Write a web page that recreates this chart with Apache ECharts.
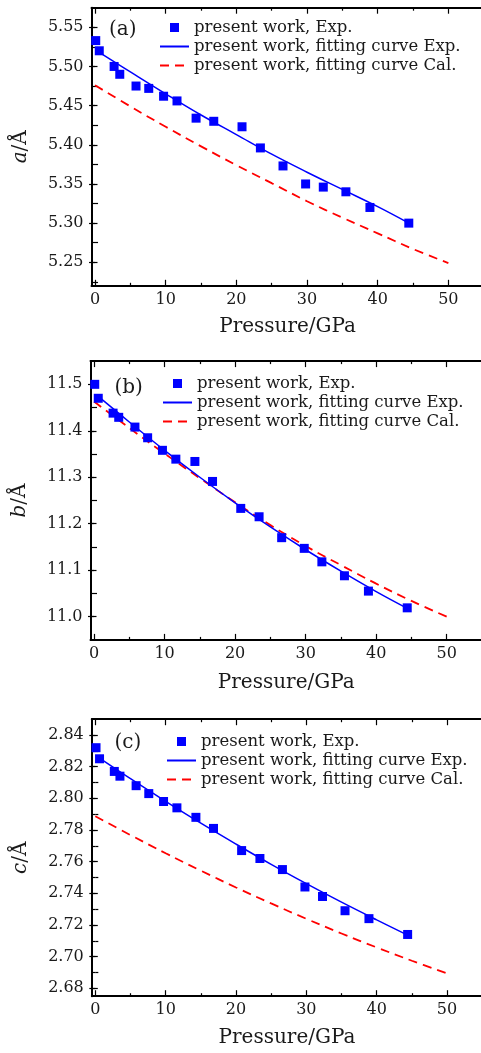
<!DOCTYPE html>
<html>
<head>
<meta charset="utf-8">
<script src="https://cdn.jsdelivr.net/npm/echarts@6.0.0/dist/echarts.min.js"></script>
<style>
  html, body { margin: 0; padding: 0; background: #fff; }
  #chart { width: 481px; height: 1053px; }
</style>
</head>
<body>
<div id="chart"></div>
<script>
// measured points, shared pressures (GPa)
const pressure = [0.1, 0.6, 2.7, 3.5, 5.8, 7.6, 9.7, 11.6, 14.3, 16.8, 20.8, 23.4, 26.6, 29.8, 32.3, 35.5, 38.9, 44.4]
const aExp = [5.533, 5.520, 5.500, 5.490, 5.475, 5.472, 5.462, 5.456, 5.434, 5.430, 5.423, 5.396, 5.373, 5.350, 5.346, 5.340, 5.320, 5.300]
const bExp = [11.500, 11.470, 11.438, 11.429, 11.408, 11.385, 11.358, 11.339, 11.334, 11.291, 11.233, 11.215, 11.170, 11.147, 11.118, 11.088, 11.055, 11.019]
const cExp = [2.832, 2.825, 2.817, 2.814, 2.808, 2.803, 2.798, 2.794, 2.788, 2.781, 2.767, 2.762, 2.755, 2.744, 2.738, 2.729, 2.724, 2.714]

const fitExpP = [0.6, 5, 10, 15, 20, 25, 30, 35, 40, 44.4]
const aFitExp = [5.518, 5.493, 5.465, 5.438, 5.413, 5.388, 5.365, 5.343, 5.321, 5.300]
const bFitExp = [11.474, 11.419, 11.358, 11.300, 11.245, 11.193, 11.144, 11.098, 11.054, 11.018]
const cFitExp = [2.8254, 2.8124, 2.7981, 2.7843, 2.7711, 2.7583, 2.7461, 2.7344, 2.7232, 2.7136]

// fitting curve of calculation
const calP = [0, 5, 10, 15, 20, 25, 30, 35, 40, 45, 50]
const aCal = [5.476, 5.449, 5.423, 5.398, 5.374, 5.351, 5.328, 5.307, 5.287, 5.267, 5.249]
const bCal = [11.463, 11.406, 11.351, 11.298, 11.246, 11.197, 11.152, 11.111, 11.071, 11.034, 11.000]
const cCal = [2.7887, 2.7768, 2.7653, 2.7543, 2.7437, 2.7336, 2.7239, 2.7146, 2.7058, 2.6974, 2.6894]

// tick values
const xTicks = [0, 10, 20, 30, 40, 50]
const xMinor = [5, 15, 25, 35, 45]
const aTicks = [5.25, 5.30, 5.35, 5.40, 5.45, 5.50, 5.55]
const aMinor = [5.225, 5.275, 5.325, 5.375, 5.425, 5.475, 5.525]
const bTicks = [11.0, 11.1, 11.2, 11.3, 11.4, 11.5]
const bMinor = [11.05, 11.15, 11.25, 11.35, 11.45]
const cTicks = [2.68, 2.70, 2.72, 2.74, 2.76, 2.78, 2.80, 2.82, 2.84]
const cMinor = [2.69, 2.71, 2.73, 2.75, 2.77, 2.79, 2.81, 2.83]

const FONT = 'DejaVu Serif'
const INK = '#1a1a1a'
const BLUE = '#0000ff'
const RED = '#ff0000'
const N_EXP = 'present work, Exp.'
const N_FIT = 'present work, fitting curve Exp.'
const N_CAL = 'present work, fitting curve Cal.'

const panels = [
  { tag: '(a)', letter: 'a', exp: aExp, fit: aFitExp, cal: aCal, ticks: aTicks, minor: aMinor, min: 5.22, max: 5.575, digits: 2,
    left: 91.5, width: 392.2, top: 7.7, height: 278.1, legendLeft: 159, legendTop: 19, tagLeft: 109, tagTop: 20, xNameGap: 31 },
  { tag: '(b)', letter: 'b', exp: bExp, fit: bFitExp, cal: bCal, ticks: bTicks, minor: bMinor, min: 10.95, max: 11.55, digits: 1,
    left: 90.5, width: 391.5, top: 361.1, height: 278.8, legendLeft: 162, legendTop: 375, tagLeft: 114.5, tagTop: 378, xNameGap: 33 },
  { tag: '(c)', letter: 'c', exp: cExp, fit: cFitExp, cal: cCal, ticks: cTicks, minor: cMinor, min: 2.675, max: 2.85, digits: 2,
    left: 91.8, width: 390.4, top: 719.2, height: 277, legendLeft: 166, legendTop: 733, tagLeft: 114.5, tagTop: 732.5, xNameGap: 32 }
]

const pairs = (xs, ys) => xs.map((x, i) => [x, ys[i]])

const frame = { show: true, onZero: false, lineStyle: { color: '#000', width: 2 } }
const tick = (vals, len) => ({ show: true, inside: true, length: len, customValues: vals, lineStyle: { color: '#000', width: 1.2 } })
const noLabel = { show: false }

let option = {
  animation: false,
  backgroundColor: '#fff',
  grid: [], xAxis: [], yAxis: [], legend: [], title: [], series: []
}

panels.forEach((p, g) => {
  // outerBoundsMode none: the right side of the box runs past the canvas edge, as in the figure
  option.grid.push({ left: p.left, top: p.top, width: p.width, height: p.height, containLabel: false, outerBoundsMode: 'none' })

  const xBase = { type: 'value', gridIndex: g, min: -0.5, max: 55, splitLine: { show: false } }
  option.xAxis.push(
    Object.assign({}, xBase, {
      position: 'bottom', axisLine: frame, axisTick: tick(xTicks, 6),
      axisLabel: { customValues: xTicks, margin: 6, fontFamily: FONT, fontSize: 16, color: INK },
      name: 'Pressure/GPa', nameLocation: 'middle', nameGap: p.xNameGap,
      nameTextStyle: { fontFamily: FONT, fontSize: 20, color: INK }
    }),
    Object.assign({}, xBase, { position: 'bottom', axisLine: { show: false }, axisTick: tick(xMinor, 3), axisLabel: noLabel }),
    Object.assign({}, xBase, { position: 'top', axisLine: frame, axisTick: tick(xTicks, 6), axisLabel: noLabel }),
    Object.assign({}, xBase, { position: 'top', axisLine: { show: false }, axisTick: tick(xMinor, 3), axisLabel: noLabel })
  )

  const yBase = { type: 'value', gridIndex: g, min: p.min, max: p.max, splitLine: { show: false } }
  option.yAxis.push(
    Object.assign({}, yBase, {
      position: 'left', axisLine: frame, axisTick: tick(p.ticks, 6),
      axisLabel: { customValues: p.ticks, margin: 8, fontFamily: FONT, fontSize: 16, color: INK, formatter: v => v.toFixed(p.digits) },
      name: '{i|' + p.letter + '}/Å', nameLocation: 'middle', nameGap: 61,
      nameTextStyle: { fontFamily: FONT, fontSize: 20, color: INK, rich: { i: { fontFamily: FONT, fontSize: 20, fontStyle: 'italic', color: INK } } }
    }),
    Object.assign({}, yBase, { position: 'left', axisLine: { show: false }, axisTick: tick(p.minor, 3), axisLabel: noLabel }),
    // right side: only the inward ticks reach into the picture
    Object.assign({}, yBase, { position: 'right', axisLine: { show: false }, axisTick: tick(p.ticks, 6), axisLabel: noLabel }),
    Object.assign({}, yBase, { position: 'right', axisLine: { show: false }, axisTick: tick(p.minor, 3), axisLabel: noLabel })
  )

  option.title.push({
    text: p.tag, left: p.tagLeft, top: p.tagTop, padding: 0,
    textStyle: { fontFamily: FONT, fontSize: 20, fontWeight: 'normal', color: INK }
  })

  // line entries: hide the dot that ECharts puts in the middle of a line icon
  option.legend.push({
    left: p.legendLeft, top: p.legendTop, orient: 'vertical', padding: 0,
    itemWidth: 29, itemHeight: 9, itemGap: 2, selectedMode: false,
    textStyle: { fontFamily: FONT, fontSize: 16.5, color: INK },
    data: [
      { name: N_EXP, icon: 'path://M0 0H10V10H0Z' },
      { name: N_FIT, itemStyle: { opacity: 0 } },
      { name: N_CAL, itemStyle: { opacity: 0 } }
    ]
  })

  option.series.push(
    {
      type: 'line', name: N_CAL, xAxisIndex: 4 * g, yAxisIndex: 4 * g,
      data: pairs(calP, p.cal), smooth: 0.4, symbol: 'none',
      itemStyle: { color: RED }, lineStyle: { color: RED, width: 1.8, type: [9, 6] }, z: 2
    },
    {
      type: 'line', name: N_FIT, xAxisIndex: 4 * g, yAxisIndex: 4 * g,
      data: pairs(fitExpP, p.fit), smooth: 0.4, symbol: 'none',
      itemStyle: { color: BLUE }, lineStyle: { color: BLUE, width: 1.5 }, z: 2
    },
    {
      type: 'scatter', name: N_EXP, xAxisIndex: 4 * g, yAxisIndex: 4 * g,
      data: pairs(pressure, p.exp), symbol: 'rect', symbolSize: 9,
      itemStyle: { color: BLUE, opacity: 1 }, z: 3
    }
  )
})

const chart = echarts.init(document.getElementById('chart'))
chart.setOption(option)
</script>
</body>
</html>
